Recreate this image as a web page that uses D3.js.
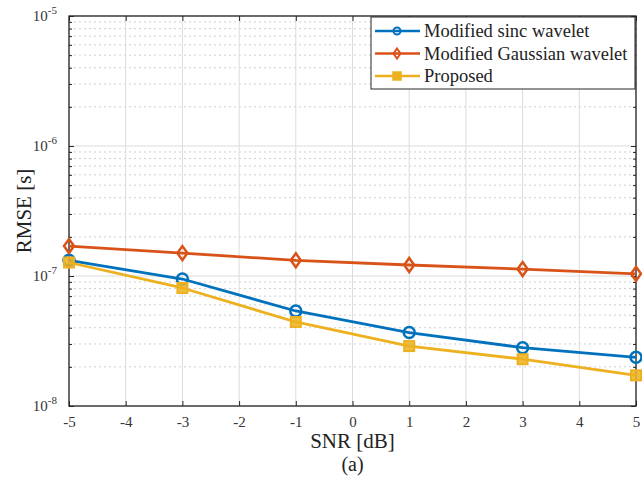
<!DOCTYPE html>
<html>
<head>
<meta charset="utf-8">
<script src="https://cdn.jsdelivr.net/npm/d3@7/dist/d3.min.js"></script>
<style>
  html, body { margin: 0; padding: 0; background: #fff; }
  svg { display: block; font-family: "Liberation Serif", "Times New Roman", serif; }
</style>
</head>
<body>
<svg id="chart" width="642" height="479"></svg>
<script>
// SNR sweep (dB)
const snr = [-5, -3, -1, 1, 3, 5];
// RMSE of time-of-arrival estimate (seconds)
const sincRmse = [1.32e-7, 0.948e-7, 5.38e-8, 3.67e-8, 2.81e-8, 2.37e-8];
const gaussRmse = [1.70e-7, 1.50e-7, 1.32e-7, 1.215e-7, 1.13e-7, 1.04e-7];
const proposedRmse = [1.27e-7, 8.09e-8, 4.43e-8, 2.89e-8, 2.29e-8, 1.72e-8];

const seriesNames = ["Modified sinc wavelet", "Modified Gaussian wavelet", "Proposed"];
const xTicks = [-5, -4, -3, -2, -1, 0, 1, 2, 3, 4, 5];
const yExponents = [-8, -7, -6, -5];

const series = [
  { name: seriesNames[0], values: sincRmse, color: "#0072BD", marker: "circle" },
  { name: seriesNames[1], values: gaussRmse, color: "#D95319", marker: "diamond" },
  { name: seriesNames[2], values: proposedRmse, color: "#EDB120", marker: "square" }
];

const svg = d3.select("#chart");
const m = { left: 69, top: 16, right: 6, bottom: 73 };
const W = 642 - m.left - m.right;
const H = 479 - m.top - m.bottom;

const x = d3.scaleLinear().domain([-5, 5]).range([0, W]);
const y = d3.scaleLog().domain([1e-8, 1e-5]).range([H, 0]);

const g = svg.append("g").attr("transform", `translate(${m.left},${m.top})`);

// minor grid (dotted) for each decade
const minorVals = [];
for (let e = -8; e < -5; e++) for (let k = 2; k <= 9; k++) minorVals.push(k * Math.pow(10, e));
g.append("g").selectAll("line").data(minorVals).join("line")
  .attr("x1", 0).attr("x2", W)
  .attr("y1", d => y(d)).attr("y2", d => y(d))
  .attr("stroke", "#cfcfcf").attr("stroke-width", 1)
  .attr("stroke-dasharray", "2,3");

// major grid
g.append("g").selectAll("line").data(xTicks).join("line")
  .attr("x1", d => x(d)).attr("x2", d => x(d))
  .attr("y1", 0).attr("y2", H)
  .attr("stroke", "#dcdcdc").attr("stroke-width", 1);
g.append("g").selectAll("line").data(yExponents.map(e => Math.pow(10, e))).join("line")
  .attr("x1", 0).attr("x2", W)
  .attr("y1", d => y(d)).attr("y2", d => y(d))
  .attr("stroke", "#dcdcdc").attr("stroke-width", 1);

// axes
const axisColor = "#262626";
const xAxis = g.append("g").attr("transform", `translate(0,${H})`)
  .call(d3.axisBottom(x).tickValues(xTicks).tickSizeInner(-5).tickSizeOuter(0).tickPadding(10)
    .tickFormat(d => d));
xAxis.select(".domain").remove();
xAxis.selectAll("line").attr("stroke", axisColor);
xAxis.selectAll("text").attr("font-size", 15).attr("fill", "#333")
  .attr("font-family", "Liberation Serif, serif");

const xTop = g.append("g")
  .call(d3.axisTop(x).tickValues(xTicks).tickSizeInner(-5).tickSizeOuter(0).tickFormat(""));
xTop.select(".domain").remove();
xTop.selectAll("line").attr("stroke", axisColor);

const yAxis = g.append("g")
  .call(d3.axisLeft(y).tickValues(yExponents.map(e => Math.pow(10, e))).tickSizeInner(-5)
    .tickSizeOuter(0).tickFormat(""));
yAxis.select(".domain").remove();
yAxis.selectAll("line").attr("stroke", axisColor);
const yMinorL = g.append("g")
  .call(d3.axisLeft(y).tickValues(minorVals).tickSizeInner(-3).tickSizeOuter(0).tickFormat(""));
yMinorL.select(".domain").remove();
yMinorL.selectAll("line").attr("stroke", axisColor);
const yRight = g.append("g").attr("transform", `translate(${W},0)`)
  .call(d3.axisRight(y).tickValues(yExponents.map(e => Math.pow(10, e))).tickSizeInner(-5)
    .tickSizeOuter(0).tickFormat(""));
yRight.select(".domain").remove();
yRight.selectAll("line").attr("stroke", axisColor);
const yMinorR = g.append("g").attr("transform", `translate(${W},0)`)
  .call(d3.axisRight(y).tickValues(minorVals).tickSizeInner(-3).tickSizeOuter(0).tickFormat(""));
yMinorR.select(".domain").remove();
yMinorR.selectAll("line").attr("stroke", axisColor);

// y tick labels: 10 with superscript exponent
const yLab = g.append("g").selectAll("text").data(yExponents).join("text")
  .attr("x", -12).attr("y", d => y(Math.pow(10, d)) + 5)
  .attr("text-anchor", "end").attr("font-size", 15).attr("fill", "#333");
yLab.append("tspan").text("10");
yLab.append("tspan").attr("dy", -7).attr("font-size", 11).text(d => d);

// box
g.append("rect").attr("x", 0).attr("y", 0).attr("width", W).attr("height", H)
  .attr("fill", "none").attr("stroke", axisColor).attr("stroke-width", 1.3);

// markers
function drawMarker(sel, type, color) {
  if (type === "circle") {
    sel.append("circle").attr("r", 5.5).attr("fill", "none")
      .attr("stroke", color).attr("stroke-width", 2.5);
  } else if (type === "diamond") {
    sel.append("path").attr("d", "M0,-7L5,0L0,7L-5,0Z").attr("fill", "none")
      .attr("stroke", color).attr("stroke-width", 2.5);
  } else {
    sel.append("rect").attr("x", -5).attr("y", -5).attr("width", 10).attr("height", 10)
      .attr("fill", color).attr("fill-opacity", 0.85)
      .attr("stroke", color).attr("stroke-width", 2);
  }
}

const line = d3.line().x((d, i) => x(snr[i])).y(d => y(d));
series.forEach(s => {
  g.append("path").datum(s.values).attr("d", line)
    .attr("fill", "none").attr("stroke", s.color).attr("stroke-width", 2.8)
    .attr("stroke-linejoin", "round");
  s.values.forEach((v, i) => {
    const mk = g.append("g").attr("transform", `translate(${x(snr[i])},${y(v)})`);
    drawMarker(mk, s.marker, s.color);
  });
});

// legend
const lg = svg.append("g").attr("transform", "translate(371,17)");
lg.append("rect").attr("width", 264).attr("height", 72)
  .attr("fill", "#fff").attr("stroke", axisColor).attr("stroke-width", 1);
series.forEach((s, i) => {
  const row = lg.append("g").attr("transform", `translate(0,${14 + i * 22.5})`);
  row.append("line").attr("x1", 4).attr("x2", 49).attr("y1", 0).attr("y2", 0)
    .attr("stroke", s.color).attr("stroke-width", 2.6);
  const mk = row.append("g").attr("transform", "translate(26,0)");
  if (s.marker === "circle") {
    mk.append("circle").attr("r", 3.5).attr("fill", "none").attr("stroke", s.color).attr("stroke-width", 2);
  } else if (s.marker === "diamond") {
    mk.append("path").attr("d", "M0,-5L3.5,0L0,5L-3.5,0Z").attr("fill", "none")
      .attr("stroke", s.color).attr("stroke-width", 2);
  } else {
    mk.append("rect").attr("x", -4).attr("y", -4).attr("width", 8).attr("height", 8)
      .attr("fill", s.color).attr("stroke", s.color).attr("stroke-width", 1.5);
  }
  row.append("text").attr("x", 53).attr("y", 6).attr("font-size", 18.5)
    .attr("fill", "#222").text(s.name);
});

// axis titles
svg.append("text").attr("x", m.left + W / 2).attr("y", 448)
  .attr("text-anchor", "middle").attr("font-size", 21).attr("fill", "#222").text("SNR [dB]");
svg.append("text").attr("x", m.left + W / 2).attr("y", 471)
  .attr("text-anchor", "middle").attr("font-size", 20).attr("fill", "#222").text("(a)");
svg.append("text").attr("transform", "translate(31,211) rotate(-90)")
  .attr("text-anchor", "middle").attr("font-size", 21).attr("fill", "#222").text("RMSE [s]");
</script>
</body>
</html>
